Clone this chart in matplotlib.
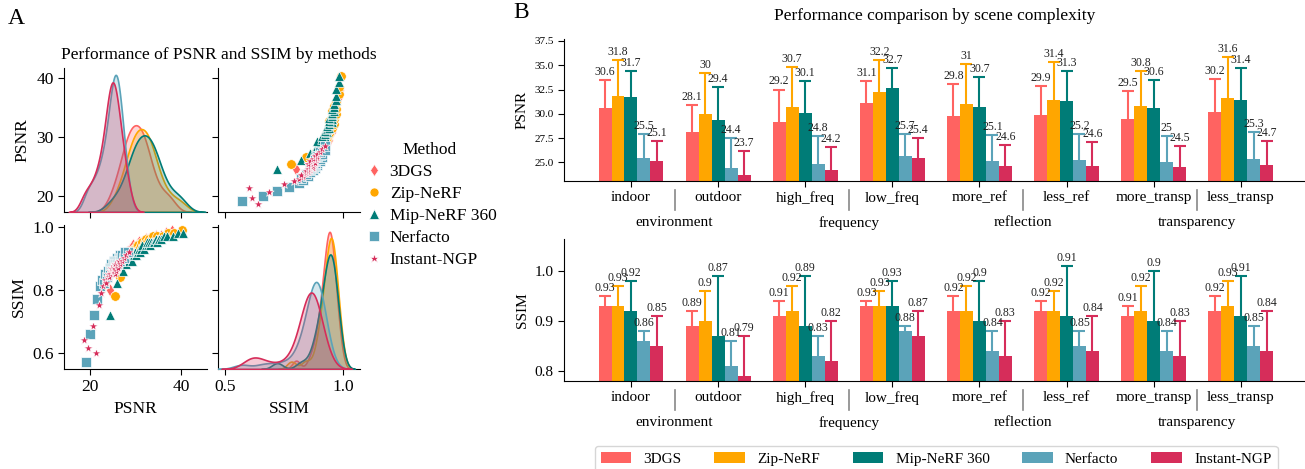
import numpy as np
import matplotlib
matplotlib.use('Agg')
import matplotlib.pyplot as plt
from matplotlib.lines import Line2D
from matplotlib.patches import Patch
import seaborn as sns

plt.rcParams['font.family'] = 'serif'
plt.rcParams['font.serif'] = ['Liberation Serif', 'DejaVu Serif']

W, H = 1305, 469

METHODS = ['3DGS', 'Zip-NeRF', 'Mip-NeRF 360', 'Nerfacto', 'Instant-NGP']
COLORS = ['#FF6361', '#FFA600', '#007C77', '#5BA3B9', '#D62D5A']
MARKERS = ['d', 'o', '^', 's', '*']

# ---------------------------------------------------------------------------
# Panel A: per-scene scores
# ---------------------------------------------------------------------------
psnr_3dgs = [24.5, 25.6, 26.3, 26.8, 27.2, 27.6, 27.9, 28.2, 28.5, 28.7, 29.0, 29.2, 29.4, 29.65, 29.9, 30.3,
             30.55, 30.8, 31.0, 31.2, 31.5, 31.7, 32.0, 32.3, 32.6, 33.0, 33.4, 33.9, 34.6, 35.7, 36.8, 38.0]
ssim_3dgs = [0.80, 0.86, 0.88, 0.90, 0.89, 0.91, 0.90, 0.92, 0.91, 0.93, 0.92, 0.93, 0.94, 0.92, 0.93, 0.94,
             0.93, 0.95, 0.94, 0.94, 0.95, 0.94, 0.95, 0.96, 0.95, 0.96, 0.95, 0.96, 0.97, 0.97, 0.98, 0.985]

psnr_zip = [25.4, 26.6, 27.3, 27.9, 28.3, 28.7, 29.0, 29.3, 29.6, 29.9, 30.1, 30.4, 30.6, 30.8, 31.1, 31.5,
            31.8, 32.0, 32.2, 32.5, 32.7, 33.0, 33.3, 33.6, 33.9, 34.3, 34.7, 35.3, 36.0, 37.2, 38.5, 40.3]
ssim_zip = [0.78, 0.84, 0.88, 0.90, 0.91, 0.90, 0.92, 0.91, 0.93, 0.93, 0.92, 0.94, 0.94, 0.93, 0.94, 0.95,
            0.94, 0.95, 0.96, 0.95, 0.94, 0.96, 0.95, 0.96, 0.97, 0.95, 0.97, 0.96, 0.97, 0.98, 0.98, 0.99]

psnr_mip = [24.5, 26.0, 27.2, 27.9, 28.5, 28.9, 29.3, 29.6, 29.9, 30.2, 30.5, 30.8, 31.0, 31.3, 31.5, 31.8, 32.2,
            32.5, 32.7, 33.0, 33.2, 33.5, 33.8, 34.1, 34.4, 34.7, 35.1, 35.6, 36.2, 37.0, 38.2, 39.3, 40.4]
ssim_mip = [0.72, 0.82, 0.86, 0.88, 0.89, 0.90, 0.89, 0.91, 0.92, 0.91, 0.92, 0.93, 0.92, 0.93, 0.94, 0.93, 0.94,
            0.95, 0.94, 0.95, 0.94, 0.95, 0.95, 0.95, 0.96, 0.95, 0.96, 0.96, 0.97, 0.97, 0.97, 0.98, 0.98]

psnr_nerfacto = [19.1, 20.0, 20.8, 21.5, 22.1, 22.6, 23.0, 23.4, 23.7, 24.0, 24.3, 24.5, 24.7, 24.9, 25.1, 25.2,
                 25.4, 25.5, 25.6, 25.8, 25.9, 26.0, 26.2, 26.3, 26.5, 26.7, 26.9, 27.1, 27.4, 27.8, 28.4]
ssim_nerfacto = [0.57, 0.66, 0.72, 0.77, 0.81, 0.83, 0.82, 0.85, 0.84, 0.86, 0.87, 0.86, 0.88, 0.87, 0.88, 0.89,
                 0.88, 0.89, 0.88, 0.89, 0.90, 0.88, 0.89, 0.90, 0.91, 0.89, 0.90, 0.91, 0.90, 0.92, 0.92]

psnr_ingp = [18.6, 19.6, 20.6, 21.3, 21.9, 22.4, 22.8, 23.2, 23.5, 23.8, 24.0, 24.2, 24.4, 24.5, 24.7, 24.8,
             25.0, 25.1, 25.3, 25.4, 25.6, 25.8, 26.0, 26.2, 26.4, 26.7, 27.0, 27.4, 27.9, 28.5]
ssim_ingp = [0.64, 0.615, 0.685, 0.60, 0.75, 0.79, 0.81, 0.83, 0.82, 0.84, 0.85, 0.84, 0.86, 0.85, 0.87, 0.86,
             0.86, 0.87, 0.87, 0.85, 0.88, 0.86, 0.88, 0.87, 0.89, 0.88, 0.89, 0.90, 0.91, 0.92]

psnr_all = [psnr_3dgs, psnr_zip, psnr_mip, psnr_nerfacto, psnr_ingp]
ssim_all = [ssim_3dgs, ssim_zip, ssim_mip, ssim_nerfacto, ssim_ingp]

# ---------------------------------------------------------------------------
# Panel B: mean / std by scene type (rows follow METHODS)
# ---------------------------------------------------------------------------
CATEGORIES = ['indoor', 'outdoor', 'high_freq', 'low_freq', 'more_ref', 'less_ref', 'more_transp', 'less_transp']
GROUPS = ['environment', 'frequency', 'reflection', 'transparency']

psnr_mean = [[30.6, 28.1, 29.2, 31.1, 29.8, 29.9, 29.5, 30.2],
             [31.8, 30.0, 30.7, 32.2, 31.0, 31.4, 30.8, 31.6],
             [31.7, 29.4, 30.1, 32.7, 30.7, 31.3, 30.6, 31.4],
             [25.5, 24.4, 24.8, 25.7, 25.1, 25.2, 25.0, 25.3],
             [25.1, 23.7, 24.2, 25.4, 24.6, 24.6, 24.5, 24.7]]
psnr_std = [[2.9, 2.8, 3.3, 2.3, 3.3, 3.0, 2.8, 3.4],
            [3.7, 4.2, 4.1, 3.3, 4.1, 3.9, 3.6, 4.2],
            [2.7, 3.4, 3.3, 2.0, 3.1, 3.1, 2.9, 3.3],
            [2.4, 3.1, 2.9, 2.2, 2.7, 2.7, 2.7, 2.8],
            [2.1, 2.5, 2.4, 2.1, 2.2, 2.5, 2.2, 2.5]]
ssim_mean = [[0.93, 0.89, 0.91, 0.93, 0.92, 0.92, 0.91, 0.92],
             [0.93, 0.90, 0.92, 0.93, 0.92, 0.92, 0.92, 0.93],
             [0.92, 0.87, 0.89, 0.93, 0.90, 0.91, 0.90, 0.91],
             [0.86, 0.81, 0.83, 0.88, 0.84, 0.85, 0.84, 0.85],
             [0.85, 0.79, 0.82, 0.87, 0.83, 0.84, 0.83, 0.84]]
ssim_std = [[0.02, 0.03, 0.03, 0.01, 0.03, 0.02, 0.02, 0.03],
            [0.04, 0.06, 0.05, 0.03, 0.05, 0.04, 0.05, 0.05],
            [0.06, 0.12, 0.10, 0.05, 0.08, 0.10, 0.10, 0.08],
            [0.02, 0.05, 0.04, 0.01, 0.04, 0.03, 0.04, 0.04],
            [0.06, 0.08, 0.08, 0.05, 0.07, 0.07, 0.07, 0.08]]


def px_axes(left, top, right, bottom):
    """Axes rectangle from pixel edges"""
    return [left / W, 1 - bottom / H, (right - left) / W, (bottom - top) / H]


fig = plt.figure(figsize=(W / 100, H / 100), dpi=100)

# ============================================================================
# PANEL A
# ============================================================================
ax00 = fig.add_axes(px_axes(64, 68, 207, 212))
ax01 = fig.add_axes(px_axes(218, 68, 360, 212))
ax10 = fig.add_axes(px_axes(64, 225, 207, 369))
ax11 = fig.add_axes(px_axes(218, 225, 360, 369))

PSNR_LIM = (14.3, 45.7)
SSIM_LIM = (0.469, 1.07)
PSNR_YLIM = (17.2, 41.7)
SSIM_YLIM = (0.548, 1.005)

for i in range(len(METHODS)):
    ax01.scatter(ssim_all[i], psnr_all[i], marker=MARKERS[i], s=48, color=COLORS[i],
                 edgecolors='white', linewidths=0.5, zorder=3)
    ax10.scatter(psnr_all[i], ssim_all[i], marker=MARKERS[i], s=48, color=COLORS[i],
                 edgecolors='white', linewidths=0.5, zorder=3)

kde00 = ax00.twinx()
kde11 = ax11.twinx()
for i in range(len(METHODS)):
    sns.kdeplot(x=psnr_all[i], ax=kde00, color=COLORS[i], fill=True, alpha=0.25, linewidth=1.2, bw_adjust=0.9)
    sns.kdeplot(x=ssim_all[i], ax=kde11, color=COLORS[i], fill=True, alpha=0.25, linewidth=1.2, bw_adjust=0.9)
for k in (kde00, kde11):
    k.set_ylim(0, None)
    k.set_axis_off()

for ax in (ax00, ax10):
    ax.set_xlim(*PSNR_LIM)
    ax.set_xticks([20, 40])
for ax in (ax01, ax11):
    ax.set_xlim(*SSIM_LIM)
    ax.set_xticks([0.5, 1.0])
for ax in (ax00, ax01):
    ax.set_ylim(*PSNR_YLIM)
    ax.set_yticks([20, 30, 40])
for ax in (ax10, ax11):
    ax.set_ylim(*SSIM_YLIM)
    ax.set_yticks([0.6, 0.8, 1.0])

for ax in (ax00, ax01, ax10, ax11):
    ax.spines['top'].set_visible(False)
    ax.spines['right'].set_visible(False)
    ax.tick_params(labelsize=12.5, length=4)
ax00.tick_params(labelbottom=False)
ax01.tick_params(labelbottom=False, labelleft=False)
ax11.tick_params(labelleft=False)
ax00.set_ylabel('PSNR', fontsize=12.5)
ax10.set_ylabel('SSIM', fontsize=12.5)
ax10.set_xlabel('PSNR', fontsize=12.5)
ax11.set_xlabel('SSIM', fontsize=12.5)

fig.text(219 / W, 1 - 55 / H, 'Performance of PSNR and SSIM by methods', ha='center', va='center', fontsize=12.5)
fig.text(8 / W, 1 - 18 / H, 'A', ha='left', va='center', fontsize=17)

handles_a = [Line2D([], [], marker=MARKERS[i], color=COLORS[i], markeredgecolor='white',
                    markeredgewidth=0.5, markersize=6.5, linestyle='none') for i in range(len(METHODS))]
fig.legend(handles_a, METHODS, title='Method', loc='center left', bbox_to_anchor=(348 / W, 1 - 205 / H),
           frameon=False, fontsize=12.5, title_fontsize=12.5, handletextpad=0.3, labelspacing=0.33,
           handlelength=1.2)

# ============================================================================
# PANEL B
# ============================================================================
axp = fig.add_axes(px_axes(564, 39, 1305, 181.3))
axs = fig.add_axes(px_axes(564, 239, 1305, 381.3))

x = np.arange(len(CATEGORIES))
bw = 0.149

for ax, means, stds, lim in ((axp, psnr_mean, psnr_std, (23.05, 37.7)),
                             (axs, ssim_mean, ssim_std, (0.780, 1.063))):
    for i in range(len(METHODS)):
        xi = x + (i - 2) * bw
        m = np.array(means[i])
        s = np.array(stds[i])
        ax.bar(xi, m, width=bw, color=COLORS[i], zorder=2)
        ax.errorbar(xi, m, yerr=s, fmt='none', ecolor=COLORS[i], elinewidth=1.5,
                    capsize=4, capthick=1.5, zorder=1)
        for xx, mm, ss in zip(xi, m, s):
            ax.annotate(f'{mm:g}', (xx, mm + ss), xytext=(0, 1.5), textcoords='offset points',
                        ha='center', va='bottom', fontsize=8.5, color='#222222', zorder=4)
    ax.set_ylim(*lim)
    ax.set_xlim(-0.769, 7.738)
    ax.set_xticks(x)
    ax.set_xticklabels(CATEGORIES, fontsize=11)
    ax.tick_params(axis='x', length=4, pad=3)
    ax.spines['top'].set_visible(False)
    ax.spines['right'].set_visible(False)
    # separators and group names under the tick labels
    for g, name in enumerate(GROUPS):
        xs = 2 * g + 0.5
        ax.plot([xs, xs], [-0.061, -0.20], color='#888888', lw=1.2,
                transform=ax.get_xaxis_transform(), clip_on=False)
        ax.text(xs, -0.293, name, transform=ax.get_xaxis_transform(), ha='center', va='center', fontsize=11)

axp.set_yticks([25.0, 27.5, 30.0, 32.5, 35.0, 37.5])
axp.set_yticklabels(['25.0', '27.5', '30.0', '32.5', '35.0', '37.5'])
axp.tick_params(axis='y', labelsize=8, length=4)
axp.set_ylabel('PSNR', fontsize=11)
axs.set_yticks([0.8, 0.9, 1.0])
axs.tick_params(axis='y', labelsize=11, length=4)
axs.set_ylabel('SSIM', fontsize=11)

axp.set_title('Performance comparison by scene complexity', fontsize=12.5, pad=14)
fig.text(513 / W, 1 - 12 / H, 'B', ha='left', va='center', fontsize=17)

handles_b = [Patch(facecolor=COLORS[i]) for i in range(len(METHODS))]
fig.legend(handles_b, METHODS, loc='upper center', ncol=5, bbox_to_anchor=(936 / W, 1 - 446 / H),
           fontsize=11, frameon=True, edgecolor='#cccccc', handlelength=2.0, columnspacing=2.15,
           borderaxespad=0)

fig.savefig('out.png', dpi=100)
